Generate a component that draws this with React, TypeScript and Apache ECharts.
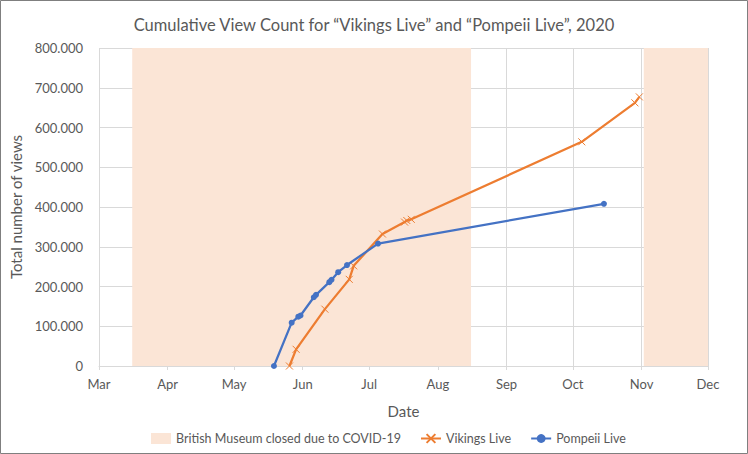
import React, { useEffect, useRef } from "react";
import * as echarts from "echarts";

const vikingsDates = ["2020-05-26", "2020-05-29", "2020-06-11", "2020-06-22", "2020-06-24", "2020-07-07", "2020-07-17", "2020-07-18", "2020-07-20", "2020-10-05", "2020-10-29", "2020-10-31"];
const vikingsViews = [0, 42000, 143000, 218000, 252000, 332000, 362000, 366000, 369000, 564000, 662000, 677000];

const pompeiiDates = ["2020-05-19", "2020-05-27", "2020-05-30", "2020-05-31", "2020-06-06", "2020-06-07", "2020-06-13", "2020-06-14", "2020-06-17", "2020-06-21", "2020-07-05", "2020-10-15"];
const pompeiiViews = [0, 109000, 124000, 127000, 173000, 179000, 211000, 217000, 236000, 254000, 308000, 408000];

const closedStarts = ["2020-03-16", "2020-11-02"];
const closedEnds = ["2020-08-16", "2020-12-01"];

const monthNames = ["Jan", "Feb", "Mar", "Apr", "May", "Jun", "Jul", "Aug", "Sep", "Oct", "Nov", "Dec"];

const xMin = "2020-03-01";
const xMax = "2020-12-01";

const ts = (s: string) => new Date(s + "T00:00:00").getTime();

export default function App() {
  const ref = useRef<HTMLDivElement>(null);
  useEffect(() => {
    if (!ref.current) return;
    const chart = echarts.init(ref.current, null, { renderer: "svg" });
    const font = "Lato";
    const gray = "#595959";
    const closedName = "British Museum closed due to COVID-19";
    chart.setOption({
      animation: false,
      backgroundColor: "#ffffff",
      textStyle: { fontFamily: font },
      title: {
        text: "Cumulative View Count for \u201cVikings Live\u201d and \u201cPompeii Live\u201d, 2020",
        left: "center",
        top: 11,
        textStyle: { fontFamily: font, fontSize: 16.5, fontWeight: "normal", color: gray },
      },
      graphic: [
        {
          type: "rect",
          shape: { x: 0.5, y: 0.5, width: 747, height: 453 },
          style: { fill: "none", stroke: "#7f7f7f", lineWidth: 1 },
          silent: true,
        },
      ],
      grid: { left: 96, right: 40, top: 48, bottom: 88 },
      legend: {
        top: 427,
        left: 146,
        itemWidth: 20,
        itemHeight: 11,
        itemGap: 19,
        textStyle: { fontFamily: font, fontSize: 12.5, color: gray },
        data: [
          { name: closedName, icon: "rect" },
          { name: "Vikings Live" },
          { name: "Pompeii Live" },
        ],
      },
      xAxis: {
        type: "time",
        min: ts(xMin),
        max: ts(xMax),
        splitNumber: 9,
        minInterval: 28 * 86400000,
        maxInterval: 31 * 86400000,
        name: "Date",
        nameLocation: "middle",
        nameGap: 37,
        nameTextStyle: { fontFamily: font, fontSize: 15, color: gray },
        axisLine: { lineStyle: { color: "#d9d9d9" } },
        axisTick: { show: true, length: 4, lineStyle: { color: "#d9d9d9" } },
        axisLabel: {
          fontFamily: font,
          fontSize: 13,
          color: gray,
          margin: 11,
          hideOverlap: false,
          showMinLabel: true,
          showMaxLabel: true,
          formatter: (v: number) => monthNames[new Date(v).getMonth()],
        },
        splitLine: { show: true, lineStyle: { color: "#d9d9d9" } },
      },
      yAxis: {
        type: "value",
        min: 0,
        max: 800000,
        interval: 100000,
        name: "Total number of views",
        nameLocation: "middle",
        nameGap: 76,
        nameTextStyle: { fontFamily: font, fontSize: 15, color: gray },
        axisLine: { show: false },
        axisTick: { show: false },
        axisLabel: {
          fontFamily: font,
          fontSize: 13,
          color: gray,
          margin: 16,
          formatter: (v: number) => (v === 0 ? "0" : String(v / 1000) + ".000"),
        },
        splitLine: { lineStyle: { color: "#d9d9d9" } },
      },
      series: [
        {
          name: closedName,
          type: "line",
          data: [],
          z: 1,
          itemStyle: { color: "#FBE5D6" },
          markArea: {
            silent: true,
            itemStyle: { color: "#FBE5D6", opacity: 1 },
            data: closedStarts.map((s, i) => [{ xAxis: ts(s) }, { xAxis: ts(closedEnds[i]) }]),
          },
        },
        {
          name: "Vikings Live",
          type: "line",
          z: 3,
          data: vikingsDates.map((d, i) => [ts(d), vikingsViews[i]]),
          symbol: "path://M0,0L10,10M10,0L0,10",
          symbolSize: 7,
          showSymbol: true,
          lineStyle: { color: "#ED7D31", width: 2.25 },
          itemStyle: { color: "#ED7D31", borderColor: "#ED7D31", borderWidth: 1 },
        },
        {
          name: "Pompeii Live",
          type: "line",
          z: 4,
          data: pompeiiDates.map((d, i) => [ts(d), pompeiiViews[i]]),
          symbol: "circle",
          symbolSize: 6,
          showSymbol: true,
          lineStyle: { color: "#4472C4", width: 2.25 },
          itemStyle: { color: "#4472C4" },
        },
      ],
    });
    return () => chart.dispose();
  }, []);
  return (
    <div
      ref={ref}
      style={{ position: "absolute", left: 0, top: 0, width: 748, height: 454 }}
    />
  );
}
